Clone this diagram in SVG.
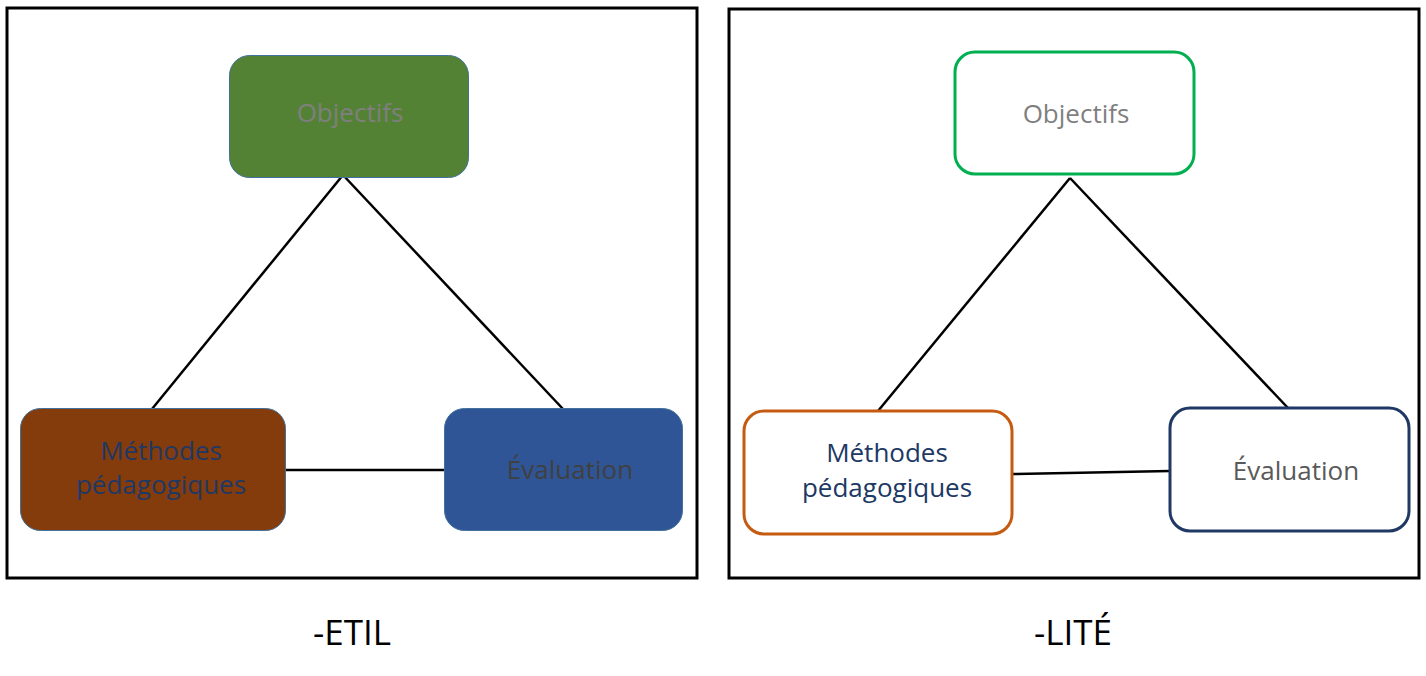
<svg xmlns="http://www.w3.org/2000/svg" width="1426" height="676" viewBox="0 0 1426 676">
<style>
.frame{fill:none;stroke:#000;stroke-width:3}
.conn line{stroke:#000;stroke-width:2.5}
text{font-family:"Open Sans","Liberation Sans",sans-serif;text-anchor:middle}
.t{font-size:26px}
.cap{font-size:35px;fill:#000}
</style>
<rect width="1426" height="676" fill="#fff"/>
<g id="frame-left"><rect class="frame" x="7" y="8" width="690" height="570"/></g>
<g id="frame-right"><rect class="frame" x="729" y="9" width="690" height="569"/></g>
<g id="connectors" class="conn">
<line x1="343" y1="175" x2="152" y2="409"/>
<line x1="343" y1="175" x2="563" y2="409"/>
<line x1="285" y1="470" x2="444" y2="470"/>
<line x1="1070" y1="178" x2="878" y2="411"/>
<line x1="1070" y1="178" x2="1288" y2="408"/>
<line x1="1013" y1="474" x2="1170" y2="471"/>
</g>
<g id="l-objectifs"><rect x="229.5" y="55.5" width="239" height="122" rx="20" fill="#548235" stroke="#41719C" stroke-width="1"/><text class="t" x="350" y="122" fill="#7F7F7F">Objectifs</text></g>
<g id="l-methodes"><rect x="20.5" y="408.5" width="265" height="122" rx="20" fill="#843C0C" stroke="#41719C" stroke-width="1"/><text class="t" x="161" y="460" fill="#203864">Méthodes</text><text class="t" x="161" y="494" fill="#203864">pédagogiques</text></g>
<g id="l-evaluation"><rect x="444.5" y="408.5" width="238" height="122" rx="20" fill="#2F5597" stroke="#41719C" stroke-width="1"/><text class="t" x="570" y="479" fill="#404040">Évaluation</text></g>
<g id="r-objectifs"><rect x="955" y="52" width="239" height="122" rx="20" fill="#fff" stroke="#00B050" stroke-width="3"/><text class="t" x="1076" y="123" fill="#7F7F7F">Objectifs</text></g>
<g id="r-methodes"><rect x="744" y="411" width="268" height="123" rx="20" fill="#fff" stroke="#C55A11" stroke-width="3"/><text class="t" x="887" y="462" fill="#203864">Méthodes</text><text class="t" x="887" y="497" fill="#203864">pédagogiques</text></g>
<g id="r-evaluation"><rect x="1170" y="408" width="239" height="123" rx="20" fill="#fff" stroke="#1F3864" stroke-width="3"/><text class="t" x="1296" y="480" fill="#595959">Évaluation</text></g>
<g id="cap-etil"><text class="cap" x="352" y="645">-ETIL</text></g>
<g id="cap-lite"><text class="cap" x="1073" y="645">-LITÉ</text></g>
</svg>
